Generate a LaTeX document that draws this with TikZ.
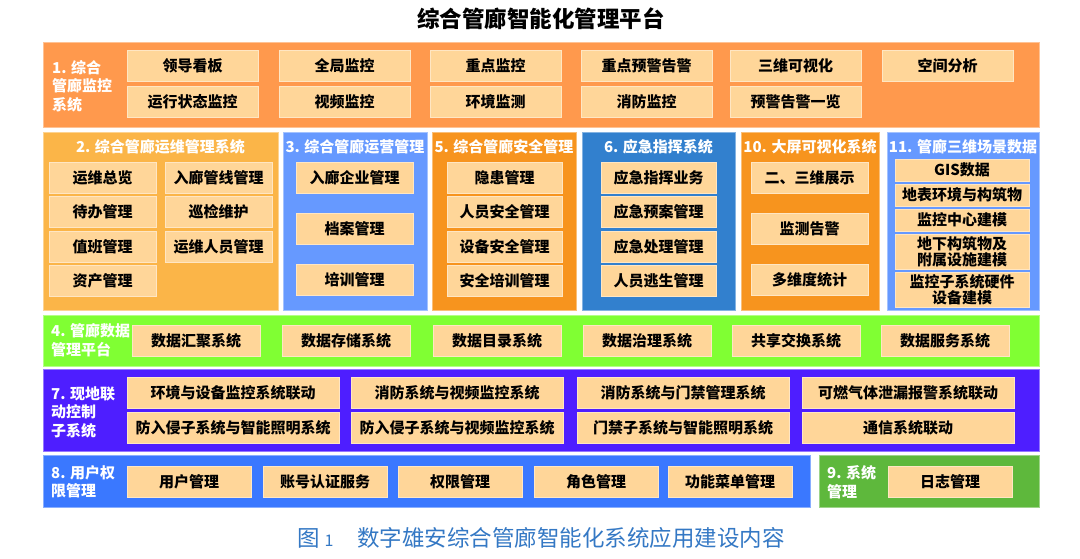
\documentclass[tikz,border=0pt]{standalone}
\usepackage{fontspec}
\setmainfont{Noto Sans CJK SC}
\usepackage{xcolor}
\usepackage{tikz}

\definecolor{monorange}{RGB}{255,153,77}
\definecolor{opsorange}{RGB}{251,181,72}
\definecolor{safeorange}{RGB}{247,148,30}
\definecolor{lightblue}{RGB}{102,153,255}
\definecolor{deepblue}{RGB}{50,128,206}
\definecolor{datagreen}{RGB}{128,255,51}
\definecolor{linkviolet}{RGB}{78,30,255}
\definecolor{userblue}{RGB}{58,120,255}
\definecolor{sysgreen}{RGB}{94,184,60}
\definecolor{itemfill}{RGB}{255,214,153}
\definecolor{itemedge}{RGB}{255,230,195}
\definecolor{capblue}{RGB}{52,120,196}

\tikzset{
  panel/.style={fill=#1, draw=#1!60!white, line width=0.8pt},
  item/.style 2 args={anchor=north west, inner sep=0pt, outer sep=0pt, fill=itemfill, draw=itemedge, line width=0.8pt,
    minimum width=#1pt, minimum height=#2pt, align=center, font=\fontsize{15}{16}\selectfont\bfseries},
  sidelabel/.style={anchor=west, inner sep=0pt, text=white, align=left, font=\fontsize{15}{18.5}\selectfont\bfseries},
  headlabel/.style={inner sep=0pt, text=white, font=\fontsize{15}{18}\selectfont\bfseries},
}

\begin{document}
\begin{tikzpicture}[x=1pt, y=-1pt]
				\useasboundingbox (0,0) rectangle (1080,559);
				
				% Title
				\node[font=\fontsize{22.5}{26}\selectfont\bfseries] (title) at (541,19) {综合管廊智能化管理平台};
				
				% 1. Monitoring
				\path[panel=monorange] (43,42) rectangle (1039,127);
				\node[sidelabel] (lab1) at (52,86) {1. 综合\\管廊监控\\系统};
				\node[item={131}{31}] (m1) at (127,50) {领导看板};
				\node[item={131}{31}] (m2) at (279,50) {全局监控};
				\node[item={131}{31}] (m3) at (430,50) {重点监控};
				\node[item={131}{31}] (m4) at (581,50) {重点预警告警};
				\node[item={131}{31}] (m5) at (730,50) {三维可视化};
				\node[item={131}{31}] (m6) at (882,50) {空间分析};
				\node[item={131}{31}] (m7) at (127,86) {运行状态监控};
				\node[item={131}{31}] (m8) at (279,86) {视频监控};
				\node[item={131}{31}] (m9) at (430,86) {环境监测};
				\node[item={131}{31}] (m10) at (581,86) {消防监控};
				\node[item={131}{31}] (m11) at (730,86) {预警告警一览};
				
				% 2. Operation and maintenance
				\path[panel=opsorange] (43,132) rectangle (278,310);
				\node[headlabel] (lab2) at (160.5,147) {2. 综合管廊运维管理系统};
				\node[item={107}{31}] (o1) at (49,162) {运维总览};
				\node[item={107}{31}] (o2) at (49,196) {待办管理};
				\node[item={107}{31}] (o3) at (49,231) {值班管理};
				\node[item={107}{31}] (o4) at (49,265) {资产管理};
				\node[item={107}{31}] (o5) at (165,162) {入廊管线管理};
				\node[item={107}{31}] (o6) at (165,196) {巡检维护};
				\node[item={107}{31}] (o7) at (165,231) {运维人员管理};
				
				% 3. Operation
				\path[panel=lightblue] (283,132) rectangle (427,310);
				\node[headlabel] (lab3) at (355,147) {3. 综合管廊运营管理};
				\node[item={117}{31}] (r1) at (296,162) {入廊企业管理};
				\node[item={117}{31}] (r2) at (296,213) {档案管理};
				\node[item={117}{31}] (r3) at (296,264) {培训管理};
				
				% 5. Safety
				\path[panel=safeorange] (432,132) rectangle (576,310);
				\node[headlabel] (lab5) at (504,147) {5. 综合管廊安全管理};
				\node[item={115}{31}] (s1) at (447,162) {隐患管理};
				\node[item={115}{31}] (s2) at (447,196) {人员安全管理};
				\node[item={115}{31}] (s3) at (447,231) {设备安全管理};
				\node[item={115}{31}] (s4) at (447,265) {安全培训管理};
				
				% 6. Emergency command
				\path[panel=deepblue] (582,132) rectangle (735,310);
				\node[headlabel] (lab6) at (658.5,147) {6. 应急指挥系统};
				\node[item={115}{31}] (e1) at (601,162) {应急指挥业务};
				\node[item={115}{31}] (e2) at (601,196) {应急预案管理};
				\node[item={115}{31}] (e3) at (601,231) {应急处理管理};
				\node[item={115}{31}] (e4) at (601,265) {人员逃生管理};
				
				% 10. Large screen
				\path[panel=safeorange] (741,132) rectangle (879,310);
				\node[headlabel] (lab10) at (810,147) {10. 大屏可视化系统};
				\node[item={117}{31}] (v1) at (751,162) {二、三维展示};
				\node[item={117}{31}] (v2) at (751,213) {监测告警};
				\node[item={117}{31}] (v3) at (751,264) {多维度统计};
				
				% 11. 3D scene data
				\path[panel=lightblue] (887,132) rectangle (1039,310);
				\node[headlabel] (lab11) at (963,147) {11. 管廊三维场景数据};
				\node[item={134}{22}] (g1) at (895,159) {GIS数据};
				\node[item={134}{22}] (g2) at (895,184) {地表环境与构筑物};
				\node[item={134}{22}] (g3) at (895,209) {监控中心建模};
				\node[item={134}{35}] (g4) at (895,234) {地下构筑物及\\附属设施建模};
				\node[item={134}{35}] (g5) at (895,272) {监控子系统硬件\\设备建模};
				
				% 4. Data platform
				\path[panel=datagreen] (43,315) rectangle (1039,366);
				\node[sidelabel] (lab4) at (51,340) {4. 管廊数据\\管理平台};
				\node[item={128}{31}] (d1) at (132,325) {数据汇聚系统};
				\node[item={128}{31}] (d2) at (282,325) {数据存储系统};
				\node[item={128}{31}] (d3) at (433,325) {数据目录系统};
				\node[item={128}{31}] (d4) at (583,325) {数据治理系统};
				\node[item={128}{31}] (d5) at (732,325) {共享交换系统};
				\node[item={128}{31}] (d6) at (881,325) {数据服务系统};
				
				% 7. Linkage control
				\path[panel=linkviolet] (43,369) rectangle (1039,451);
				\node[sidelabel] (lab7) at (51,412) {7. 现地联\\动控制\\子系统};
				\node[item={212}{31}] (k1) at (127,377) {环境与设备监控系统联动};
				\node[item={212}{31}] (k2) at (351,377) {消防系统与视频监控系统};
				\node[item={212}{31}] (k3) at (577,377) {消防系统与门禁管理系统};
				\node[item={212}{31}] (k4) at (802,377) {可燃气体泄漏报警系统联动};
				\node[item={212}{31}] (k5) at (127,412) {防入侵子系统与智能照明系统};
				\node[item={212}{31}] (k6) at (351,412) {防入侵子系统与视频监控系统};
				\node[item={212}{31}] (k7) at (577,412) {门禁子系统与智能照明系统};
				\node[item={212}{31}] (k8) at (802,412) {通信系统联动};
				
				% 8. User rights
				\path[panel=userblue] (43,455) rectangle (810,507);
				\node[sidelabel] (lab8) at (51,482) {8. 用户权\\限管理};
				\node[item={124}{31}] (u1) at (127,466) {用户管理};
				\node[item={124}{31}] (u2) at (263,466) {账号认证服务};
				\node[item={124}{31}] (u3) at (398,466) {权限管理};
				\node[item={124}{31}] (u4) at (534,466) {角色管理};
				\node[item={124}{31}] (u5) at (668,466) {功能菜单管理};
				
				% 9. System
				\path[panel=sysgreen] (819,455) rectangle (1039,507);
				\node[sidelabel] (lab9) at (827,482) {9. 系统\\管理};
				\node[item={124}{31}] (y1) at (888,466) {日志管理};
				
				% Caption
				\node[text=capblue, font=\fontsize{22.5}{26}\selectfont] (caption) at (541,538)
					{图\hspace{5pt}{\fontsize{16}{20}\selectfont 1}\hspace{24pt}数字雄安综合管廊智能化系统应用建设内容};
				
			\end{tikzpicture}
\end{document}
